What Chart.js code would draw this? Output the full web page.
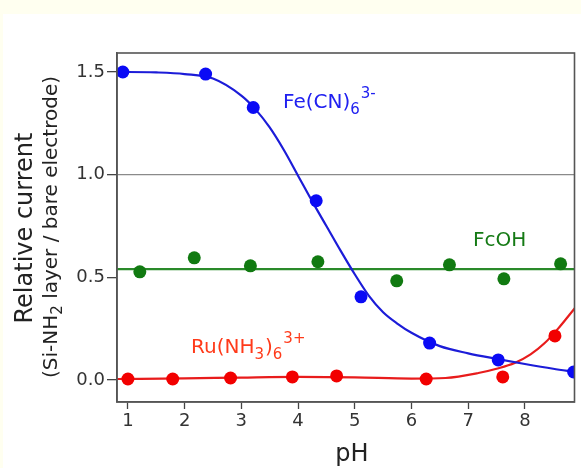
<!DOCTYPE html>
<html><head><meta charset="utf-8">
<script src="https://cdn.jsdelivr.net/npm/chart.js@4/dist/chart.umd.min.js"></script>
<style>html,body{margin:0;padding:0;background:#fff;}#wrap{width:581px;height:468px;position:relative;}</style>
</head><body><div id="wrap"><canvas id="c" width="581" height="468"></canvas></div>
<script>
// ---- data ----
const xTicks = [1, 2, 3, 4, 5, 6, 7, 8];
const yTicks = [0, 0.5, 1.0, 1.5];

const feX = [0.91, 2.37, 3.21, 4.32, 5.11, 6.32, 7.53, 8.86];
const feY = [1.50, 1.49, 1.327, 0.873, 0.405, 0.18, 0.098, 0.039];
const fcX = [1.21, 2.17, 3.16, 4.35, 5.74, 6.67, 7.63, 8.63];
const fcY = [0.527, 0.595, 0.556, 0.576, 0.483, 0.561, 0.493, 0.566];
const ruX = [1.0, 1.79, 2.81, 3.9, 4.68, 6.26, 7.61, 8.53];
const ruY = [0.005, 0.005, 0.01, 0.015, 0.02, 0.005, 0.015, 0.215];

const feFitX = [0.81, 1.0, 1.5, 2.0, 2.5, 3.0, 3.25, 3.5, 3.75, 4.0, 4.25, 4.5, 4.75, 5.0, 5.25, 5.5, 5.75, 6.0, 6.5, 7.0, 7.5, 8.0, 8.5, 8.88];
const feFitY = [1.500, 1.500, 1.498, 1.490, 1.468, 1.385, 1.318, 1.230, 1.120, 0.995, 0.870, 0.750, 0.630, 0.515, 0.410, 0.330, 0.275, 0.230, 0.165, 0.130, 0.103, 0.078, 0.055, 0.040];
const fcFitX = [0.81, 8.88];
const fcFitY = [0.54, 0.54];
const ruFitX = [0.81, 2.0, 3.0, 4.0, 5.0, 6.0, 6.6, 7.18, 7.5, 7.82, 8.1, 8.35, 8.6, 8.88];
const ruFitY = [0.005, 0.008, 0.012, 0.015, 0.013, 0.007, 0.01, 0.034, 0.055, 0.083, 0.125, 0.18, 0.255, 0.35];

const xTitle = 'pH';
const yTitle = 'Relative current';
const ySub = ['(Si-NH', '2', ' layer / bare electrode)'];

const FONT = '"DejaVu Sans", Verdana, sans-serif';

function pts(xs, ys) { return xs.map((x, i) => ({x: x, y: ys[i]})); }

const deco = {
  id: 'deco',
  beforeDraw(chart) {
    const c = chart.ctx;
    c.save();
    c.fillStyle = '#ffffff';
    c.fillRect(0, 0, chart.width, chart.height);
    c.fillStyle = '#fffff0';
    c.fillRect(0, 0, chart.width, 14);
    c.fillRect(0, 0, 3, chart.height);
    c.restore();
  },
  afterDraw(chart) {
    const c = chart.ctx, a = chart.chartArea;
    c.save();
    c.strokeStyle = '#555';
    c.lineWidth = 1.6;
    c.strokeRect(a.left, a.top, a.right - a.left, a.bottom - a.top);

    // axis titles
    c.fillStyle = '#222';
    c.textBaseline = 'alphabetic';
    c.textAlign = 'center';
    c.font = '24px ' + FONT;
    c.fillText(xTitle, 352, 461);

    c.save();
    c.translate(32, 228);
    c.rotate(-Math.PI / 2);
    c.font = '24px ' + FONT;
    c.textAlign = 'center';
    c.fillText(yTitle, 0, 0);
    c.restore();

    c.save();
    c.translate(57, 227);
    c.rotate(-Math.PI / 2);
    const bf = '20px ' + FONT, sf = '15px ' + FONT;
    c.font = bf; const w0 = c.measureText(ySub[0]).width;
    c.font = sf; const w1 = c.measureText(ySub[1]).width;
    c.font = bf; const w2 = c.measureText(ySub[2]).width;
    let x0 = -(w0 + w1 + w2) / 2;
    c.textAlign = 'left';
    c.font = bf; c.fillText(ySub[0], x0, 0);
    c.font = sf; c.fillText(ySub[1], x0 + w0, 5);
    c.font = bf; c.fillText(ySub[2], x0 + w0 + w1, 0);
    c.restore();

    // series labels
    function label(parts, x, y, color) {
      c.fillStyle = color;
      c.textAlign = 'left';
      let cx = x;
      parts.forEach(p => {
        c.font = (p[1] === 0 ? '20px ' : '15px ') + FONT;
        c.fillText(p[0], cx, y + p[1]);
        cx += c.measureText(p[0]).width + (p[1] === 0 ? 0 : 1);
      });
    }
    label([['Fe(CN)', 0], ['6', 6], ['3-', -10]], 283, 108, '#2020f0');
    label([['FcOH', 0]], 473, 246, '#157a15');
    label([['Ru(NH', 0], ['3', 6], [')', 0], ['6', 6], ['3+', -10]], 191, 353, '#ff3a1a');
    c.restore();
  }
};

new Chart(document.getElementById('c'), {
  type: 'scatter',
  data: {
    datasets: [
      {data: pts(feX, feY), backgroundColor: '#0a0af5', borderColor: '#0a0af5', pointRadius: 6.5, pointHoverRadius: 6.5, borderWidth: 0, showLine: false, clip: 0, order: 0},
      {data: pts(fcX, fcY), backgroundColor: '#117a11', borderColor: '#117a11', pointRadius: 6.5, pointHoverRadius: 6.5, borderWidth: 0, showLine: false, clip: 0, order: 0},
      {data: pts(ruX, ruY), backgroundColor: '#f20000', borderColor: '#f20000', pointRadius: 6.5, pointHoverRadius: 6.5, borderWidth: 0, showLine: false, clip: 0, order: 0},
      {data: pts(feFitX, feFitY), borderColor: '#1c1cd8', borderWidth: 2.2, pointRadius: 0, showLine: true, cubicInterpolationMode: 'monotone', clip: 0, order: 1},
      {data: pts(fcFitX, fcFitY), borderColor: '#2a8a2a', borderWidth: 2.2, pointRadius: 0, showLine: true, clip: 0, order: 1},
      {data: pts(ruFitX, ruFitY), borderColor: '#e81c1c', borderWidth: 2.2, pointRadius: 0, showLine: true, cubicInterpolationMode: 'monotone', clip: 0, order: 1}
    ]
  },
  options: {
    responsive: false,
    animation: false,
    devicePixelRatio: 1,
    layout: {padding: {left: 72, top: 53, right: 3, bottom: 26}},
    plugins: {legend: {display: false}, tooltip: {enabled: false}},
    events: [],
    scales: {
      x: {
        type: 'linear', min: 0.8075, max: 8.875,
        afterBuildTicks: s => { s.ticks = xTicks.map(v => ({value: v})); },
        afterFit: s => { s.height = 40; },
        ticks: {color: '#333', font: {family: FONT, size: 18}, padding: 2, callback: v => String(v), maxRotation: 0, autoSkip: false},
        grid: {display: true, drawOnChartArea: false, drawTicks: true, tickLength: 7, tickColor: '#444', tickWidth: 1.3},
        border: {display: true, color: '#555', width: 1.6}
      },
      y: {
        type: 'linear', min: -0.107, max: 1.5925,
        afterBuildTicks: s => { s.ticks = yTicks.map(v => ({value: v})); },
        afterFit: s => { s.width = 45; },
        ticks: {color: '#333', font: {family: FONT, size: 18}, padding: 2, callback: v => v.toFixed(1), autoSkip: false},
        grid: {display: true, drawOnChartArea: true, drawTicks: true, tickLength: 10, tickColor: '#444', tickWidth: 1.3,
               color: ctx => (ctx.tick && ctx.tick.value === 1) ? '#8a8a8a' : 'rgba(0,0,0,0)', lineWidth: 1.3},
        border: {display: true, color: '#555', width: 1.6}
      }
    }
  },
  plugins: [deco]
});
</script>
</body></html>
